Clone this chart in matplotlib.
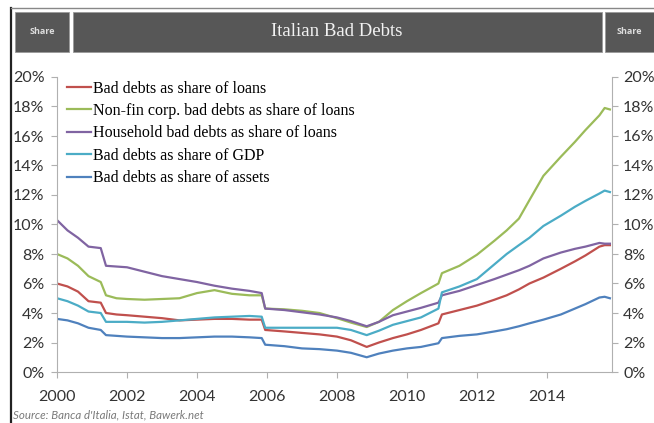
import matplotlib
matplotlib.use("Agg")
import matplotlib.pyplot as plt
from matplotlib.patches import Rectangle
from matplotlib.lines import Line2D
from matplotlib.ticker import FuncFormatter

# time points (decimal years)
years = [2000.0, 2000.3, 2000.6, 2000.9, 2001.25, 2001.4, 2001.7, 2002.0, 2002.5, 2003.0,
         2003.5, 2004.0, 2004.5, 2005.0, 2005.5, 2005.85, 2005.95, 2006.5, 2007.0, 2007.5,
         2008.0, 2008.4, 2008.85, 2009.2, 2009.6, 2010.0, 2010.4, 2010.9, 2011.0, 2011.5,
         2012.0, 2012.5, 2012.85, 2013.2, 2013.5, 2013.9, 2014.4, 2014.8, 2015.1, 2015.5,
         2015.65, 2015.8]

loans = [6.0, 5.8, 5.45, 4.8, 4.7, 4.0, 3.9, 3.85, 3.75, 3.65,
         3.5, 3.55, 3.6, 3.6, 3.55, 3.55, 2.85, 2.75, 2.65, 2.55,
         2.4, 2.15, 1.7, 2.0, 2.3, 2.55, 2.85, 3.3, 3.9, 4.2,
         4.5, 4.9, 5.2, 5.6, 6.0, 6.4, 7.0, 7.5, 7.9, 8.5,
         8.6, 8.6]
nonfin = [8.0, 7.7, 7.2, 6.5, 6.1, 5.2, 5.0, 4.95, 4.9, 4.95,
          5.0, 5.35, 5.55, 5.3, 5.2, 5.2, 4.3, 4.25, 4.15, 4.0,
          3.65, 3.35, 3.05, 3.4, 4.2, 4.8, 5.35, 6.0, 6.7, 7.2,
          7.95, 8.9, 9.6, 10.4, 11.65, 13.3, 14.6, 15.6, 16.4, 17.4,
          17.9, 17.8]
household = [10.3, 9.6, 9.1, 8.5, 8.4, 7.2, 7.15, 7.1, 6.8, 6.5,
             6.3, 6.1, 5.85, 5.65, 5.5, 5.35, 4.3, 4.2, 4.05, 3.9,
             3.7, 3.45, 3.1, 3.4, 3.85, 4.1, 4.35, 4.7, 5.2, 5.5,
             5.9, 6.3, 6.6, 6.9, 7.2, 7.7, 8.1, 8.35, 8.5, 8.75,
             8.7, 8.7]
gdp = [5.0, 4.8, 4.5, 4.1, 4.0, 3.4, 3.4, 3.4, 3.35, 3.4,
       3.5, 3.6, 3.7, 3.75, 3.8, 3.75, 3.0, 3.0, 3.0, 3.0,
       3.0, 2.85, 2.5, 2.8, 3.2, 3.45, 3.7, 4.3, 5.4, 5.8,
       6.3, 7.3, 8.0, 8.6, 9.1, 9.9, 10.6, 11.2, 11.6, 12.1,
       12.3, 12.2]
assets = [3.6, 3.5, 3.3, 3.0, 2.85, 2.5, 2.45, 2.4, 2.35, 2.3,
          2.3, 2.35, 2.4, 2.4, 2.35, 2.3, 1.85, 1.75, 1.6, 1.55,
          1.45, 1.3, 1.0, 1.25, 1.45, 1.6, 1.7, 1.95, 2.3, 2.45,
          2.55, 2.75, 2.9, 3.1, 3.3, 3.55, 3.9, 4.3, 4.6, 5.05,
          5.1, 5.0]

labels = ["Bad debts as share of loans",
          "Non-fin corp. bad debts as share of loans",
          "Household bad debts as share of loans",
          "Bad debts as share of GDP",
          "Bad debts as share of assets"]
colors = ["#c0504d", "#9bbb59", "#8064a2", "#4bacc6", "#4f81bd"]
series = [loans, nonfin, household, gdp, assets]

W, H = 654, 423
fig = plt.figure(figsize=(W / 100, H / 100), dpi=100)


def fx(px):
    return px / W


def fy(py):
    return 1 - py / H


# frame and header bar
fig.add_artist(Line2D([fx(11), fx(11)], [fy(8), 0], color="#222222", lw=1.6))
fig.add_artist(Line2D([fx(11), 1], [fy(8), fy(8)], color="#888888", lw=1.0))
for x0, x1 in [(15, 69), (73, 602), (605, 660)]:
    fig.add_artist(Rectangle((fx(x0), fy(52)), fx(x1 - x0), (52 - 12) / H,
                             facecolor="#575757", edgecolor="#9a9a9a", lw=0.6))
fig.text(fx(42), fy(32), "Share", color="#dddddd", fontsize=6.5, fontweight="bold",
         family="Open Sans", ha="center", va="center")
fig.text(fx(629), fy(32), "Share", color="#dddddd", fontsize=6.5, fontweight="bold",
         family="Open Sans", ha="center", va="center")
fig.text(fx(337), fy(32), "Italian Bad Debts", color="#f2f2f2", fontsize=13.5,
         family="Liberation Serif", ha="center", va="center")

ax = fig.add_axes([fx(57), fy(372), fx(612 - 57), (372 - 77) / H])
for s, c, lab in zip(series, colors, labels):
    ax.plot(years, s, color=c, lw=1.6, label=lab)

ax.set_xlim(2000, 2015.86)
ax.set_ylim(0, 20)
ax.set_xticks(range(2000, 2016, 2))
ax.set_yticks(range(0, 21, 2))
pct = FuncFormatter(lambda v, p: f"{v:.0f}%")
ax.yaxis.set_major_formatter(pct)

for side in ["top", "right"]:
    ax.spines[side].set_visible(False)
for side in ["left", "bottom"]:
    ax.spines[side].set_color("#b0b0b0")
ax.tick_params(colors="#b0b0b0", labelcolor="#333333", labelsize=11.5, length=4, width=0.8)
ax.tick_params(axis="x", pad=9)
ax.tick_params(axis="y", pad=5)
for t in ax.get_xticklabels() + ax.get_yticklabels():
    t.set_family("Lato")

ax2 = ax.twinx()
ax2.set_ylim(0, 20)
ax2.set_yticks(range(0, 21, 2))
ax2.yaxis.set_major_formatter(pct)
for side in ["top", "left", "bottom"]:
    ax2.spines[side].set_visible(False)
ax2.spines["right"].set_color("#b0b0b0")
ax2.tick_params(colors="#b0b0b0", labelcolor="#333333", labelsize=11.5, length=4, width=0.8, pad=4)
for t in ax2.get_yticklabels():
    t.set_family("Lato")

ax.legend(loc="upper left", bbox_to_anchor=(0.0, 1.02), frameon=False,
          prop={"family": "Liberation Serif", "size": 11.5}, handlelength=1.5,
          handletextpad=0.15, labelspacing=0.4, borderaxespad=0.2)

fig.text(fx(13), fy(415), "Source: Banca d'Italia, Istat, Bawerk.net", color="#7a7a7a",
         fontsize=8.3, style="italic", family="Lato", ha="left", va="center")

fig.savefig("out.png", dpi=100)
